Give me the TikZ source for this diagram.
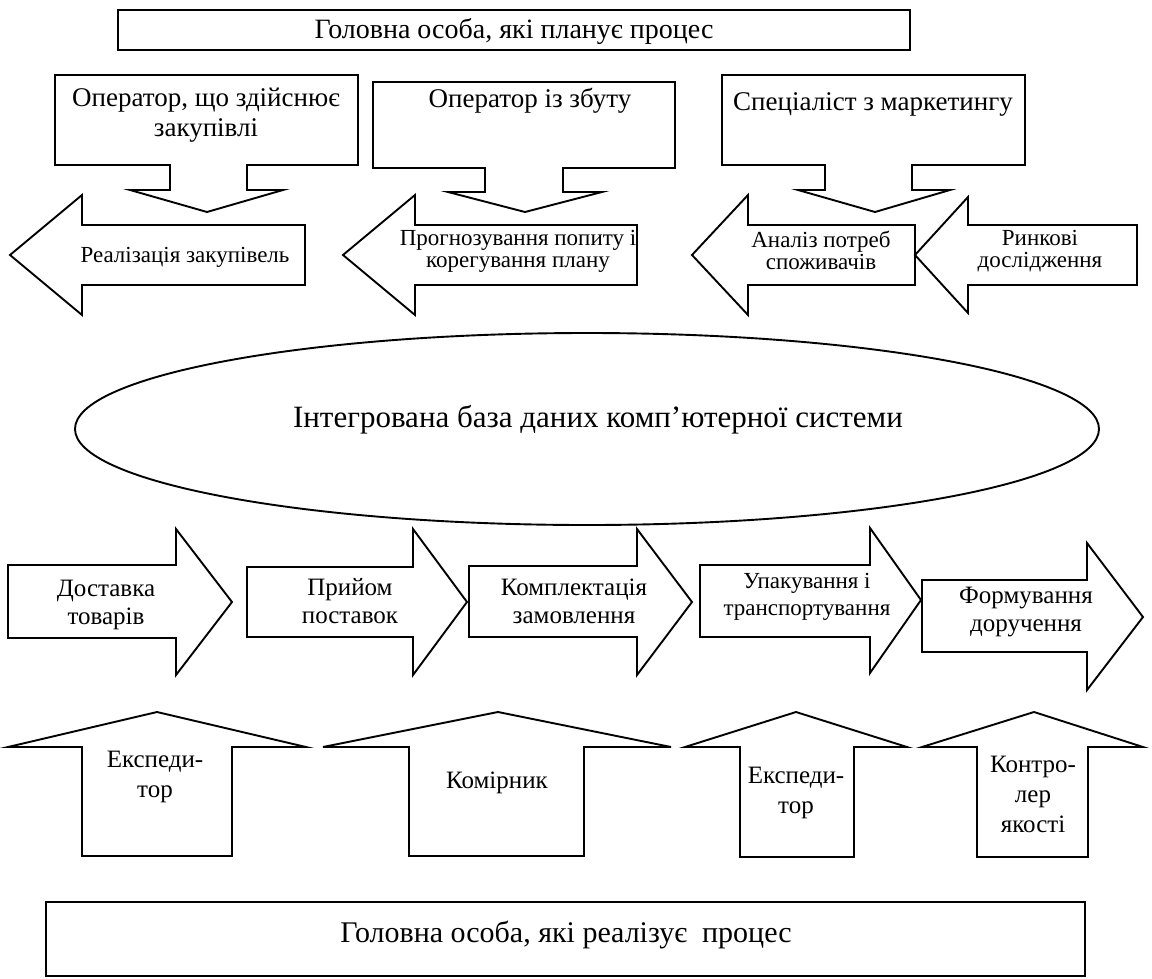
\documentclass[tikz,border=0pt]{standalone}
\usepackage{fontspec}
\setmainfont{Liberation Serif}
\begin{document}
\begin{tikzpicture}[x=1pt,y=-1pt,
  shp/.style={draw, line width=1.9pt, fill=white, line join=miter},
  lbl/.style={inner sep=0pt, align=center},
  ttl/.style={lbl, font=\fontsize{28}{32}\selectfont},
  cal/.style={lbl, font=\fontsize{27}{30}\selectfont},
  larr/.style={lbl, font=\fontsize{23}{22}\selectfont},
  rarr/.style={lbl, font=\fontsize{25}{28}\selectfont},
  uarr/.style={lbl, font=\fontsize{25}{30}\selectfont},
  ell/.style={lbl, font=\fontsize{31}{36}\selectfont},
  btm/.style={lbl, font=\fontsize{30}{36}\selectfont}]
\useasboundingbox (0,0) rectangle (1152,978);

% top box
\draw[shp, line width=1.5pt] (118,10) rectangle (910,50);
\node[ttl, anchor=base] (plan) at (514,38) {Головна особа, які планує процес};

% callouts
\draw[shp] (55,75) -- (358,75) -- (358,165) -- (247,165) -- (247,190) -- (283,190) -- (207,212) -- (130,190) -- (170,190) -- (170,165) -- (55,165) -- cycle;
\node[cal] (op1) at (206,115) {Оператор, що здійснює\\закупівлі};
\draw[shp] (373,82) -- (675,82) -- (675,168) -- (563,168) -- (563,192) -- (602,192) -- (525,212) -- (448,192) -- (485,192) -- (485,168) -- (373,168) -- cycle;
\node[cal, anchor=base] (op2) at (530,107) {Оператор із збуту};
\draw[shp] (722,75) -- (1025,75) -- (1025,165) -- (912,165) -- (912,190) -- (950,190) -- (875,212) -- (798,190) -- (825,190) -- (825,165) -- (722,165) -- cycle;
\node[cal, anchor=base] (op3) at (873,110) {Спеціаліст з маркетингу};

% left arrows
\draw[shp] (10,255) -- (82,195) -- (82,225) -- (305,225) -- (305,285) -- (82,285) -- (82,315) -- cycle;
\node[larr, anchor=base] (l1) at (185,262) {Реалізація закупівель};
\draw[shp] (343,255) -- (415,195) -- (415,225) -- (637,225) -- (637,285) -- (415,285) -- (415,315) -- cycle;
\node[larr] (l2) at (518,251) {Прогнозування попиту і\\корегування плану};
\draw[shp] (692,255) -- (748,195) -- (748,225) -- (915,225) -- (915,285) -- (748,285) -- (748,315) -- cycle;
\node[larr] (l3) at (821,250) {Аналіз потреб\\споживачів};
\draw[shp] (915,255) -- (968,197) -- (968,225) -- (1137,225) -- (1137,285) -- (968,285) -- (968,313) -- cycle;
\node[larr] (l4) at (1040,251) {Ринкові\\дослідження};

% ellipse
\draw[shp] (587,429) ellipse [x radius=512pt, y radius=96pt];
\node[ell, anchor=base] (db) at (598,427) {Інтегрована база даних комп’ютерної системи};

% right arrows
\draw[shp] (8,565) -- (176,565) -- (176,529) -- (232,602) -- (176,675) -- (176,638) -- (8,638) -- cycle;
\node[rarr] (r1) at (106,605) {Доставка\\товарів};
\draw[shp] (247,567) -- (413,567) -- (413,529) -- (467,602) -- (413,675) -- (413,637) -- (247,637) -- cycle;
\node[rarr] (r2) at (350,601) {Прийом\\поставок};
\draw[shp] (469,566) -- (637,566) -- (637,529) -- (692,602) -- (637,675) -- (637,637) -- (469,637) -- cycle;
\node[rarr] (r3) at (574,601) {Комплектація\\замовлення};
\draw[shp] (700,565) -- (870,565) -- (870,528) -- (921,600) -- (870,673) -- (870,637) -- (700,637) -- cycle;
\node[rarr, font=\fontsize{23}{27}\selectfont] (r4) at (807,597) {Упакування і\\транспортування};
\draw[shp] (922,580) -- (1087,580) -- (1087,543) -- (1143,617) -- (1087,690) -- (1087,652) -- (922,652) -- cycle;
\node[rarr] (r5) at (1026,612) {Формування\\доручення};

% up arrows
\draw[shp] (82,856) -- (82,747) -- (8,747) -- (157,712) -- (306,747) -- (232,747) -- (232,856) -- cycle;
\node[uarr] (u1) at (155,777) {Експеди-\\тор};
\draw[shp] (409,856) -- (409,747) -- (323,747) -- (498,712) -- (671,747) -- (584,747) -- (584,856) -- cycle;
\node[uarr, anchor=base] (u2) at (497,788) {Комірник};
\draw[shp] (740,857) -- (740,747) -- (685,747) -- (796,712) -- (907,747) -- (854,747) -- (854,857) -- cycle;
\node[uarr] (u3) at (796,793) {Експеди-\\тор};
\draw[shp] (977,857) -- (977,747) -- (922,747) -- (1034,712) -- (1143,747) -- (1088,747) -- (1088,857) -- cycle;
\node[uarr] (u4) at (1033,794) {Контро-\\лер\\якості};

% bottom box
\draw[shp] (46,902) rectangle (1085,976);
\node[btm, anchor=base] (real) at (566,942) {Головна особа, які реалізує\ \ процес};
\end{tikzpicture}
\end{document}
